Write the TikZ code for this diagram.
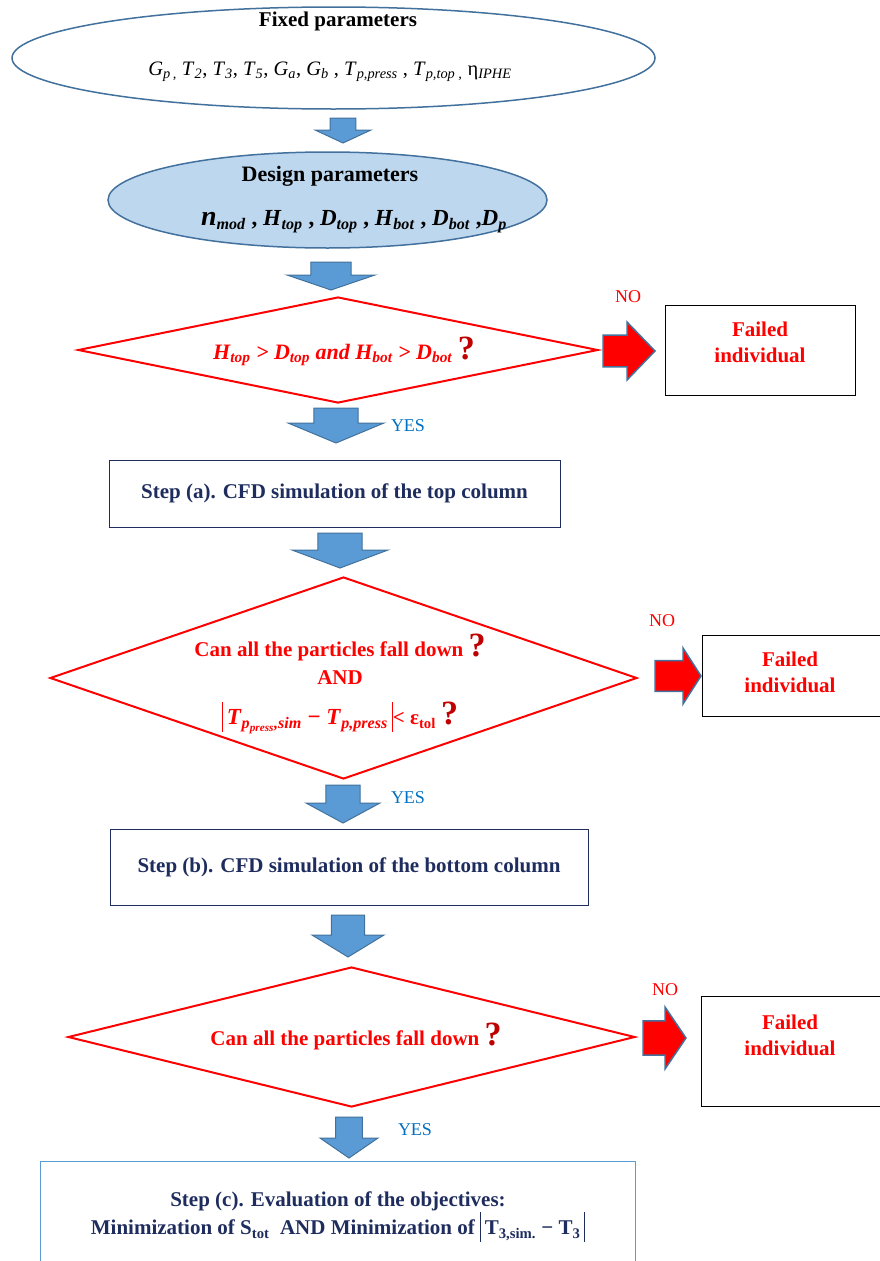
\documentclass[tikz,border=0pt]{standalone}
\usepackage{fontspec}
\setmainfont{Liberation Serif}
\usetikzlibrary{shapes.geometric}

\definecolor{arrblue}{HTML}{5B9BD5}
\definecolor{arredge}{HTML}{41719C}
\definecolor{paleblue}{HTML}{BDD7EE}
\definecolor{navy}{HTML}{1F2D5E}
\definecolor{yesblue}{HTML}{0070C0}
\definecolor{qred}{HTML}{C00000}

% italic variable with italic subscript
\newcommand{\vr}[2]{\textit{#1}\textsubscript{\textit{#2}}}
\newcommand{\bigq}{{\color{qred}\fontsize{34}{30}\selectfont\bfseries ?}}
\newcommand{\absbar}{\raisebox{-7pt}{\rule{1.2pt}{30pt}}}
% block arrow down: centre x, top, head top, tip, half head width
\newcommand{\blockdown}[5]{%
  \draw[blockarr] ({#1-#5*0.46},#2) -- ({#1+#5*0.46},#2) -- ({#1+#5*0.46},#3)
    -- ({#1+#5},#3) -- (#1,#4) -- ({#1-#5},#3) -- ({#1-#5*0.46},#3) -- cycle;}
% block arrow right: left x, centre y, head x, tip x, half head height
\newcommand{\blockright}[5]{%
  \draw[redarr] (#1,{#2-#5*0.55}) -- (#3,{#2-#5*0.55}) -- (#3,{#2-#5})
    -- (#4,#2) -- (#3,{#2+#5}) -- (#3,{#2+#5*0.55}) -- (#1,{#2+#5*0.55}) -- cycle;}

\begin{document}
\begin{tikzpicture}[x=1pt,y=-1pt,
  every node/.style={inner sep=0pt,font=\fontsize{21}{25}\selectfont},
  parambox/.style={ellipse,draw=arredge,line width=1.5pt},
  test/.style={diamond,draw=red,line width=2pt,fill=white},
  testtext/.style={text=red,align=center,font=\bfseries\fontsize{21}{28}\selectfont},
  stepbox/.style={rectangle,draw=navy,line width=1pt,text=navy,align=center,
    font=\bfseries\fontsize{21}{28}\selectfont},
  failbox/.style={rectangle,draw=black,line width=1pt},
  failtext/.style={text=red,align=center,font=\bfseries\fontsize{21}{26}\selectfont},
  blockarr/.style={fill=arrblue,draw=arredge,line width=1pt},
  redarr/.style={fill=red,draw=arredge,line width=1.5pt},
  nolabel/.style={text=red,font=\fontsize{18}{20}\selectfont},
  yeslabel/.style={text=yesblue,font=\fontsize{18}{20}\selectfont}]
\useasboundingbox (0,0) rectangle (880,1261);

% parameters
\node[parambox,fill=white,minimum width=643pt,minimum height=102pt] (fixed) at (333.5,58) {};
\node[font=\bfseries\fontsize{21}{22}\selectfont] (fixedtitle) at (338,21) {Fixed parameters};
\node[font=\fontsize{20.5}{22}\selectfont] (fixedlist) at (330,72) {\vr{G}{p\,,} \vr{T}{2}, \vr{T}{3}, \vr{T}{5}, \vr{G}{a}, \vr{G}{b} , \vr{T}{p,press} , \vr{T}{p,top ,} η\textsubscript{\textit{IPHE}}};
\node[parambox,fill=paleblue,minimum width=439pt,minimum height=96pt] (design) at (327.5,200) {};
\node[font=\bfseries\fontsize{22}{22}\selectfont] (designtitle) at (330,176) {Design parameters};
\node[font=\bfseries\fontsize{23}{22}\selectfont] (designlist) at (354,222) {\textit{\fontsize{28}{22}\selectfont n}\textsubscript{\textit{mod}} , \vr{H}{top} , \vr{D}{top} , \vr{H}{bot} , \vr{D}{bot} ,\vr{D}{p}};

% first test
\node[test,minimum width=520pt,minimum height=106pt] (geom) at (338,350) {};
\node[testtext,font=\bfseries\fontsize{22}{28}\selectfont] (geomq) at (344,351) {\textit{\vr{H}{top} > \vr{D}{top} and \vr{H}{bot} > \vr{D}{bot}} \bigq};
\node[failbox,minimum width=190pt,minimum height=90pt] (fail1) at (760,350) {};
\node[failtext,anchor=north] (fail1t) at (760,322) {Failed\\individual};
\node[nolabel] (no1) at (628,297) {NO};
\node[yeslabel] (yes1) at (408,426) {YES};

% step a
\node[stepbox,minimum width=451pt,minimum height=67pt] (stepa) at (334.5,493.5) {Step (a). CFD simulation of the top column};

% second test
\node[test,minimum width=587pt,minimum height=202pt] (fall1) at (343.5,678) {};
\node[testtext] (fall1q) at (340,684) {Can all the particles fall down \bigq\\[0pt]
  AND\\[12pt]
  {\fontsize{23}{28}\selectfont\absbar\,\textit{T}\textsubscript{\textit{p}\textsubscript{\textit{press}}\textit{,sim}} − \textit{T}\textsubscript{\textit{p,press}}\,\absbar}< ε\textsubscript{tol} \bigq};
\node[failbox,draw=none,minimum width=182pt,minimum height=80pt] (fail2) at (794,676) {};
\draw[line width=1pt] (fail2.north east) -- (fail2.north west) -- (fail2.south west) -- (fail2.south east);
\node[failtext,anchor=north] (fail2t) at (790,652) {Failed\\individual};
\node[nolabel] (no2) at (662,621) {NO};
\node[yeslabel] (yes2) at (408,798) {YES};

% step b
\node[stepbox,minimum width=478pt,minimum height=76pt] (stepb) at (349,867) {Step (b). CFD simulation of the bottom column};

% third test
\node[test,minimum width=567pt,minimum height=140pt] (fall2) at (351.5,1037) {};
\node[testtext] (fall2q) at (356,1036) {Can all the particles fall down \bigq};
\node[failbox,draw=none,minimum width=182pt,minimum height=109pt] (fail3) at (793,1051.5) {};
\draw[line width=1pt] (fail3.north east) -- (fail3.north west) -- (fail3.south west) -- (fail3.south east);
\node[failtext,anchor=north] (fail3t) at (790,1015) {Failed\\individual};
\node[nolabel] (no3) at (665,990) {NO};
\node[yeslabel] (yes3) at (415,1130) {YES};

% step c
\node[stepbox,draw=none,minimum width=594pt,minimum height=100pt] (stepc) at (338,1212) {};
\node[stepbox,draw=none] (stepct) at (338,1217) {Step (c). Evaluation of the objectives:\\[0pt]
  Minimization of S\textsubscript{tot}\ \ AND Minimization of \absbar\,T\textsubscript{3,sim.} − T\textsubscript{3}\,\absbar};
\draw[arrblue,line width=1pt] (stepc.south west) -- (stepc.north west) -- (stepc.north east) -- (stepc.south east);

% block arrows
\blockdown{343}{118}{130}{143}{28}
\blockdown{331}{262}{275}{290}{44}
\blockdown{336}{408}{423}{443}{48}
\blockdown{340}{533}{550}{568}{48}
\blockdown{343}{785}{803}{823}{37}
\blockdown{348}{915}{935}{957}{36}
\blockdown{349}{1117}{1138}{1158}{29}
\blockright{603}{351}{627}{655}{29}
\blockright{655}{676}{683}{701}{28}
\blockright{643}{1038}{665}{686}{31}
\end{tikzpicture}
\end{document}
